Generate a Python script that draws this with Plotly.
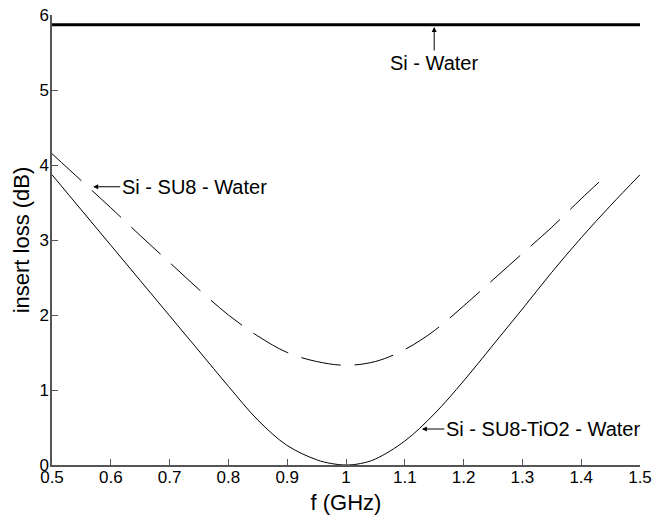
import plotly.graph_objects as go

# frequency samples (GHz)
f_ghz = [0.5, 0.55, 0.6, 0.65, 0.7, 0.75, 0.8, 0.85, 0.9, 0.95, 0.975, 1.0,
         1.025, 1.05, 1.1, 1.15, 1.2, 1.25, 1.3, 1.35, 1.4, 1.45, 1.5]

# Si - SU8-TiO2 - Water (solid)
loss_tio2 = [3.87, 3.40, 2.93, 2.46, 1.99, 1.52, 1.05, 0.60, 0.26, 0.07, 0.02, 0.0,
             0.02, 0.08, 0.32, 0.68, 1.12, 1.60, 2.08, 2.57, 3.03, 3.46, 3.87]

# Si - SU8 - Water (dashed), ends near 1.43 GHz
f_su8 = [0.5, 0.55, 0.6, 0.65, 0.7, 0.75, 0.8, 0.85, 0.9, 0.95, 1.0,
         1.05, 1.1, 1.15, 1.2, 1.25, 1.3, 1.35, 1.4, 1.43]
loss_su8 = [4.15, 3.79, 3.43, 3.06, 2.70, 2.34, 2.00, 1.72, 1.50, 1.38, 1.33,
            1.38, 1.54, 1.79, 2.12, 2.47, 2.82, 3.17, 3.55, 3.77]

# Si - Water (thick horizontal)
f_water = [0.5, 1.5]
loss_water = [5.87, 5.87]

x_ticks = [0.5, 0.6, 0.7, 0.8, 0.9, 1.0, 1.1, 1.2, 1.3, 1.4, 1.5]
x_ticklabels = ["0.5", "0.6", "0.7", "0.8", "0.9", "1", "1.1", "1.2", "1.3", "1.4", "1.5"]
y_ticks = [0, 1, 2, 3, 4, 5, 6]

labels = ["Si - Water", "Si - SU8 - Water", "Si - SU8-TiO2 - Water"]
x_title = "f (GHz)"
y_title = "insert loss (dB)"

FONT = "Liberation Sans, Arial, sans-serif"

fig = go.Figure()
fig.add_trace(go.Scatter(x=f_water, y=loss_water, mode="lines",
                         line=dict(color="black", width=3), showlegend=False))
fig.add_trace(go.Scatter(x=f_su8, y=loss_su8, mode="lines",
                         line=dict(color="black", width=1, dash="40px,14px", shape="spline"),
                         showlegend=False))
fig.add_trace(go.Scatter(x=f_ghz, y=loss_tio2, mode="lines",
                         line=dict(color="black", width=1, shape="spline"), showlegend=False))

ann_font = dict(family=FONT, size=20, color="black")
common = dict(showarrow=True, arrowhead=2, arrowsize=1, arrowwidth=1,
              arrowcolor="black", font=ann_font, xref="x", yref="y")
fig.add_annotation(x=1.15, y=5.84, text=labels[0], ax=0, ay=36, **common)
fig.add_annotation(x=0.57, y=3.71, text=labels[1], ax=101, ay=0, **common)
fig.add_annotation(x=1.129, y=0.48, text=labels[2], ax=121, ay=0, **common)

axis_font = dict(family=FONT, size=17, color="black")
fig.update_xaxes(range=[0.5, 1.5], tickvals=x_ticks, ticktext=x_ticklabels,
                 ticks="inside", ticklen=6, tickcolor="#555",
                 showline=True, linecolor="#555", linewidth=1.5, mirror=False,
                 showgrid=False, zeroline=False, tickfont=axis_font,
                 ticklabeloverflow="allow", ticklabelstandoff=-4,
                 title=dict(text=x_title, font=dict(family=FONT, size=22, color="black"), standoff=9))
fig.update_yaxes(range=[0, 6], tickvals=y_ticks,
                 ticks="inside", ticklen=6, tickcolor="#555",
                 showline=True, linecolor="#555", linewidth=1.5, mirror=False,
                 showgrid=False, zeroline=False, tickfont=axis_font,
                 ticklabeloverflow="allow", ticklabelstandoff=-2,
                 title=dict(text=y_title, font=dict(family=FONT, size=22, color="black"), standoff=4))

# page body adds an 8px margin, so the figure is sized/offset to compensate
fig.update_layout(width=658, height=507, plot_bgcolor="white", paper_bgcolor="white",
                  margin=dict(l=44, r=26, t=7, b=50, autoexpand=False))

fig.write_html("out.html")
